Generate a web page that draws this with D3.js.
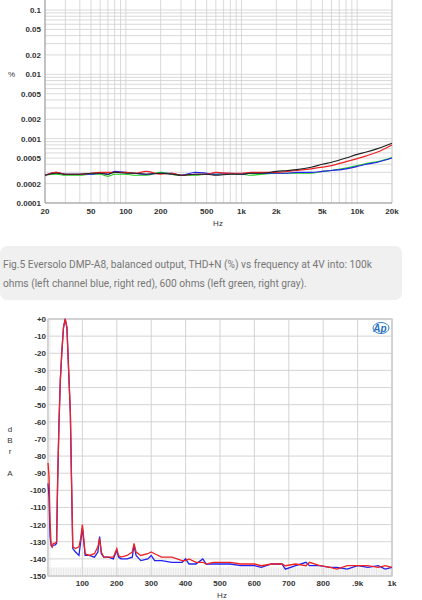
<!DOCTYPE html>
<html><head><meta charset="utf-8">
<script src="https://cdn.jsdelivr.net/npm/d3@7"></script>
<style>body{margin:0;background:#fff;font-family:"Liberation Sans",Arial,sans-serif}</style>
</head><body><svg id="c" width="422" height="600"></svg>
<script>
// ---- Top chart data (THD+N % vs frequency) ----
const thdFreq = [20,25,30,40,50,60,70,80,100,120,150,200,250,300,400,500,600,800,1000,1200,1500,2000,2500,3000,4000,5000,6000,8000,10000,12000,15000,20000];
const thdGray = [0.00027,0.00029,0.00028,0.00028,0.00029,0.00029,0.00028,0.0003,0.00029,0.00029,0.00028,0.00029,0.00028,0.00027,0.00028,0.00028,0.00027,0.00028,0.00028,0.00029,0.00029,0.00031,0.00032,0.00033,0.00036,0.0004,0.00043,0.0005,0.00057,0.00062,0.0007,0.00085];
const thdRed  = [0.00027,0.0003,0.00028,0.00028,0.00029,0.0003,0.0003,0.0003,0.0003,0.00029,0.00031,0.00028,0.00029,0.00027,0.00028,0.00028,0.0003,0.00029,0.00029,0.0003,0.0003,0.0003,0.00031,0.00032,0.00034,0.00036,0.00038,0.00044,0.00049,0.00054,0.00062,0.0008];
const thdBlue = [0.00027,0.0003,0.00028,0.00028,0.00028,0.00029,0.00028,0.00031,0.0003,0.00029,0.00028,0.00029,0.00029,0.00027,0.0003,0.00029,0.00028,0.00029,0.00028,0.00029,0.00029,0.00029,0.00029,0.0003,0.0003,0.00031,0.00032,0.00034,0.00037,0.0004,0.00043,0.0005];
const thdGreen= [0.00027,0.00028,0.00027,0.00027,0.00028,0.00028,0.00026,0.00028,0.00028,0.00027,0.00027,0.0003,0.00028,0.00027,0.00027,0.00028,0.00028,0.00028,0.00028,0.00027,0.00028,0.00029,0.00029,0.00029,0.00029,0.00031,0.00032,0.00035,0.00038,0.00041,0.00044,0.00051];
const thdYTicks = [0.1,0.05,0.02,0.01,0.005,0.002,0.001,0.0005,0.0002,0.0001];
const thdXTicks = [20,50,100,200,500,1000,2000,5000,10000,20000];
const thdXLabels = ["20","50","100","200","500","1k","2k","5k","10k","20k"];

// ---- Caption ----
const captionLines = ["Fig.5 Eversolo DMP-A8, balanced output, THD+N (%) vs frequency at 4V into: 100k",
  "ohms (left channel blue, right red), 600 ohms (left green, right gray)."];

// ---- Bottom chart data (spectrum) ----
const fftFreq = [0,3,6,9,12,15,20,25,28,32,36,40,45,50,55,60,65,68,72,80,90,95,100,103,108,120,135,145,150,155,162,175,190,200,205,212,230,245,250,256,270,290,300,310,330,360,390,400,410,430,450,460,480,500,530,560,600,620,650,680,690,720,750,760,790,820,840,870,900,930,960,980,1000];
const fftRed  = [-84,-92,-118,-132,-133,-131,-131,-130,-95,-60,-35,-20,-5,0,-5,-30,-55,-90,-133,-134,-133,-128,-120,-126,-137,-138,-137,-133,-128,-136,-139,-139,-139,-134,-138,-139,-138,-136,-131,-136,-138,-137,-136,-137,-139,-139,-141,-141,-140,-142,-142,-143,-142,-142,-142,-143,-143,-144,-143,-143,-144,-143,-144,-142,-144,-145,-146,-144,-144,-144,-145,-144,-145];
const fftBlue = [-96,-104,-127,-132,-133,-132,-132,-131,-95,-60,-35,-20,-5,0,-5,-30,-55,-90,-134,-136,-138,-130,-122,-128,-138,-138,-139,-136,-127,-137,-139,-139,-140,-135,-139,-140,-140,-139,-132,-138,-141,-140,-138,-141,-141,-142,-142,-140,-143,-143,-140,-143,-143,-143,-143,-144,-144,-145,-143,-143,-146,-144,-142,-144,-144,-145,-145,-146,-144,-145,-144,-146,-145];
const fftYTicks = [0,-10,-20,-30,-40,-50,-60,-70,-80,-90,-100,-110,-120,-130,-140,-150];
const fftXTicks = [100,200,300,400,500,600,700,800,900,1000];
const fftXLabels = ["100","200","300","400","500","600","700","800",".9k","1k"];

const svg = d3.select("#c");
const tc = "#333", gc = "#cfcfcf";

// ===== Top chart =====
const tx = d3.scaleLog().domain([20,20000]).range([45,392]);
const ty = d3.scaleLog().domain([0.0001,0.1]).range([203,10]);
const yTop = ty.invert(0);
const g1 = svg.append("g");
// grid
const vt = [];
[10,100,1000,10000].forEach(d=>{for(let k=1;k<10;k++){const v=d*k; if(v>=20&&v<=20000) vt.push(v);}});
vt.push(20000);
g1.selectAll(".vg").data(vt).enter().append("line").attr("x1",d=>tx(d)).attr("x2",d=>tx(d)).attr("y1",0).attr("y2",203).attr("stroke",gc).attr("stroke-width",0.8);
const ht = [];
[0.0001,0.001,0.01,0.1].forEach(d=>{for(let k=1;k<10;k++){const v=d*k; if(v<=yTop) ht.push(v);}});
g1.selectAll(".hg").data(ht).enter().append("line").attr("x1",45).attr("x2",392).attr("y1",d=>ty(d)).attr("y2",d=>ty(d)).attr("stroke",gc).attr("stroke-width",0.8);
g1.append("line").attr("x1",45).attr("x2",392).attr("y1",203).attr("y2",203).attr("stroke","#999");
g1.append("line").attr("x1",45).attr("x2",45).attr("y1",0).attr("y2",203).attr("stroke","#999");
g1.selectAll(".yl").data(thdYTicks).enter().append("text").attr("x",41).attr("y",d=>ty(d)+3).attr("text-anchor","end").attr("font-size",8).attr("font-weight","bold").attr("fill",tc).text(d=>String(d));
g1.selectAll(".xl").data(thdXTicks).enter().append("text").attr("x",d=>tx(d)).attr("y",214).attr("text-anchor","middle").attr("font-size",8).attr("font-weight","bold").attr("fill",tc).text((d,i)=>thdXLabels[i]);
g1.append("text").attr("x",8).attr("y",77).attr("font-size",8).attr("fill",tc).text("%");
g1.append("text").attr("x",218).attr("y",226).attr("text-anchor","middle").attr("font-size",8).attr("fill",tc).text("Hz");
const l1 = d3.line().x((d,i)=>tx(thdFreq[i])).y(d=>ty(d)).curve(d3.curveMonotoneX);
[[thdGreen,"#22cc22"],[thdBlue,"#2222ee"],[thdRed,"#ee2222"],[thdGray,"#222"]].forEach(([s,c])=>
  g1.append("path").attr("d",l1(s)).attr("fill","none").attr("stroke",c).attr("stroke-width",1.2));

// ===== Caption =====
svg.append("rect").attr("x",0).attr("y",246).attr("width",402).attr("height",54).attr("rx",7).attr("fill","#f0f0f0");
captionLines.forEach((t,i)=>svg.append("text").attr("x",3).attr("y",268+i*19).attr("font-size",10.2).attr("font-family","Roboto, sans-serif").attr("fill","#777").text(t));

// ===== Bottom chart =====
const bx = d3.scaleLinear().domain([0,1000]).range([48,392]);
const by = d3.scaleLinear().domain([-150,0]).range([576,319]);
const g2 = svg.append("g");
g2.append("rect").attr("x",48).attr("y",319).attr("width",344).attr("height",257).attr("fill","#fff").attr("stroke","#aaa");
g2.selectAll(".vg").data(fftXTicks).enter().append("line").attr("x1",d=>bx(d)).attr("x2",d=>bx(d)).attr("y1",319).attr("y2",576).attr("stroke",gc).attr("stroke-width",0.9);
g2.selectAll(".hg").data(fftYTicks).enter().append("line").attr("x1",48).attr("x2",392).attr("y1",d=>by(d)).attr("y2",d=>by(d)).attr("stroke",gc).attr("stroke-width",0.9);
// hatch ticks
g2.selectAll(".ht").data(d3.range(0,1001,5)).enter().append("line").attr("x1",d=>bx(d)).attr("x2",d=>bx(d)).attr("y1",by(-145)).attr("y2",576).attr("stroke","#ccc").attr("stroke-width",0.5);
g2.selectAll(".hl").data(d3.range(-150,1,1)).enter().append("line").attr("x1",48).attr("x2",51).attr("y1",d=>by(d)).attr("y2",d=>by(d)).attr("stroke","#ddd").attr("stroke-width",0.5);
g2.selectAll(".yl").data(fftYTicks).enter().append("text").attr("x",46).attr("y",d=>by(d)+3).attr("text-anchor","end").attr("font-size",8).attr("font-weight","bold").attr("fill",tc).text(d=>d===0?"+0":String(d));
g2.selectAll(".xl").data(fftXTicks).enter().append("text").attr("x",d=>bx(d)).attr("y",586).attr("text-anchor","middle").attr("font-size",8).attr("font-weight","bold").attr("fill",tc).text((d,i)=>fftXLabels[i]);
["d","B","r","","A"].forEach((t,i)=>g2.append("text").attr("x",10).attr("y",432+i*11).attr("text-anchor","middle").attr("font-size",8).attr("fill",tc).text(t));
g2.append("text").attr("x",222).attr("y",598).attr("text-anchor","middle").attr("font-size",8).attr("fill",tc).text("Hz");
// Ap logo
g2.append("ellipse").attr("cx",381).attr("cy",328).attr("rx",8).attr("ry",5.5).attr("fill","none").attr("stroke","#3a7fd0").attr("stroke-width",1);
g2.append("text").attr("x",380).attr("y",331.5).attr("text-anchor","middle").attr("font-size",10).attr("font-style","italic").attr("font-weight","bold").attr("fill","#2a6fc0").text("Ap");
const l2 = d3.line().x((d,i)=>bx(fftFreq[i])).y(d=>by(d));
[[fftBlue,"#2222ee"],[fftRed,"#ee2222"]].forEach(([s,c])=>
  g2.append("path").attr("d",l2(s)).attr("fill","none").attr("stroke",c).attr("stroke-width",1.3));
</script></body></html>
